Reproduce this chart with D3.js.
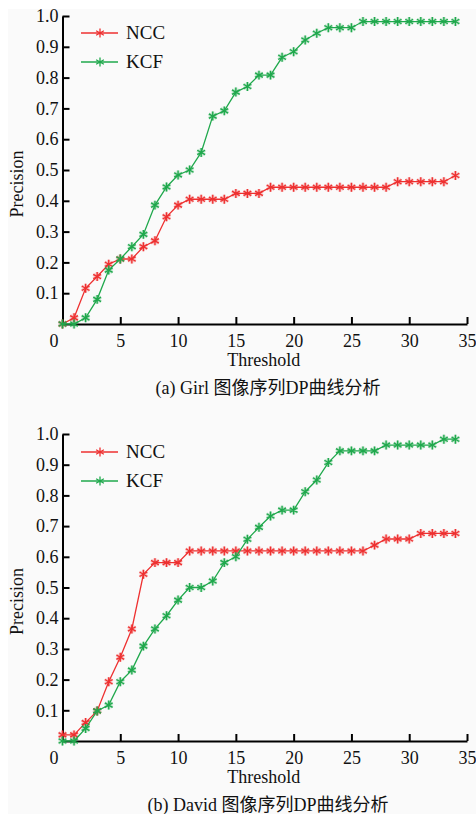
<!DOCTYPE html>
<html>
<head>
<meta charset="utf-8">
<script src="https://cdn.jsdelivr.net/npm/d3@7"></script>
<style>
  body { margin: 0; background: #fff; }
</style>
</head>
<body>
<script>
const W = 476
const H = 814
const FONT = "'Times New Roman', 'Liberation Serif', 'DejaVu Serif', 'Noto Sans CJK SC', serif"

// thresholds 0..34
const thresholds = d3.range(0, 35)

// (a) Girl
const girlNCC = [0, 0.02, 0.116, 0.154, 0.194, 0.211, 0.211, 0.251, 0.27, 0.348,
  0.386, 0.405, 0.405, 0.405, 0.405, 0.424, 0.424, 0.424, 0.444, 0.444,
  0.444, 0.444, 0.444, 0.444, 0.444, 0.444, 0.444, 0.444, 0.444, 0.462,
  0.462, 0.462, 0.462, 0.462, 0.482]
const girlKCF = [0, 0, 0.02, 0.08, 0.175, 0.211, 0.251, 0.291, 0.386, 0.445,
  0.484, 0.5, 0.557, 0.675, 0.692, 0.753, 0.771, 0.808, 0.808, 0.866,
  0.884, 0.922, 0.944, 0.962, 0.962, 0.962, 0.982, 0.982, 0.982, 0.982,
  0.982, 0.982, 0.982, 0.982, 0.982]

// (b) David
const davidNCC = [0.02, 0.02, 0.06, 0.098, 0.193, 0.273, 0.365, 0.543, 0.581, 0.581,
  0.581, 0.619, 0.619, 0.619, 0.619, 0.619, 0.619, 0.619, 0.619, 0.619,
  0.619, 0.619, 0.619, 0.619, 0.619, 0.619, 0.619, 0.638, 0.658, 0.658,
  0.658, 0.676, 0.676, 0.676, 0.676]
const davidKCF = [0, 0, 0.041, 0.098, 0.117, 0.193, 0.231, 0.309, 0.365, 0.408,
  0.459, 0.5, 0.5, 0.521, 0.581, 0.6, 0.657, 0.696, 0.733, 0.752,
  0.752, 0.812, 0.85, 0.907, 0.945, 0.945, 0.945, 0.945, 0.964, 0.964,
  0.964, 0.964, 0.964, 0.983, 0.983]

const seriesNames = ['NCC', 'KCF']
const colors = ['#ee3030', '#1fa84c']
const xTicks = [0, 5, 10, 15, 20, 25, 30, 35]
const yTicks = [0.1, 0.2, 0.3, 0.4, 0.5, 0.6, 0.7, 0.8, 0.9, 1.0]
const captions = ['(a) Girl 图像序列DP曲线分析', '(b) David 图像序列DP曲线分析']

const panels = [
  { data: [girlNCC, girlKCF], caption: captions[0], y0: 324, y1: 16, legY: 33 },
  { data: [davidNCC, davidKCF], caption: captions[1], y0: 741, y1: 434, legY: 452 }
]

const svg = d3.select('body').append('svg')
  .attr('width', W)
  .attr('height', H)
  .attr('font-family', FONT)

svg.append('rect')
  .attr('x', 8).attr('y', 9)
  .attr('width', W - 8).attr('height', H - 9)
  .attr('fill', '#fafafa')

const x = d3.scaleLinear().domain([0, 35]).range([62.5, 467])
const star = d3.symbol(d3.symbolAsterisk, 56)

panels.forEach(p => {
  const y = d3.scaleLinear().domain([0, 1]).range([p.y0, p.y1])
  const g = svg.append('g')

  // x axis
  const xa = g.append('g')
    .attr('transform', `translate(0,${p.y0})`)
    .call(d3.axisBottom(x).tickValues(xTicks).tickSizeInner(-7).tickSizeOuter(0).tickPadding(10))
  xa.attr('font-family', FONT).attr('font-size', 18)
  xa.select('.domain').attr('stroke-width', 2).attr('stroke', '#000')
  xa.selectAll('.tick line').attr('stroke-width', 2).attr('stroke', '#000')
  xa.selectAll('.tick text').attr('fill', '#111')
  xa.selectAll('.tick').filter(d => d === 0).select('line').remove()
  xa.selectAll('.tick').filter(d => d === 0).select('text').attr('x', -9)

  // y axis
  const ya = g.append('g')
    .attr('transform', `translate(${x(0)},0)`)
    .call(d3.axisLeft(y).tickValues(yTicks).tickFormat(d3.format('.1f')).tickSizeInner(-7).tickSizeOuter(0).tickPadding(4))
  ya.attr('font-family', FONT).attr('font-size', 18)
  ya.select('.domain').attr('stroke-width', 2).attr('stroke', '#000')
  ya.selectAll('.tick line').attr('stroke-width', 2).attr('stroke', '#000')
  ya.selectAll('.tick text').attr('fill', '#111')

  // lines and markers
  p.data.forEach((vals, i) => {
    const pts = thresholds.map((t, k) => [t, vals[k]])
    g.append('path')
      .datum(pts)
      .attr('fill', 'none')
      .attr('stroke', colors[i])
      .attr('stroke-width', 1.3)
      .attr('d', d3.line().x(d => x(d[0])).y(d => y(d[1])))
    const m = g.selectAll(null).data(pts).enter().append('g')
      .attr('transform', d => `translate(${x(d[0])},${y(d[1])})`)
    m.append('path').attr('d', star).attr('fill', 'none')
      .attr('stroke', colors[i]).attr('stroke-width', 3).attr('stroke-opacity', 0.3)
    m.append('path').attr('d', star).attr('fill', 'none')
      .attr('stroke', colors[i]).attr('stroke-width', 1.3)
  })

  // legend
  seriesNames.forEach((name, i) => {
    const ly = p.legY + i * 29
    g.append('line')
      .attr('x1', 81).attr('x2', 118).attr('y1', ly).attr('y2', ly)
      .attr('stroke', colors[i]).attr('stroke-width', 1.3)
    g.append('path').attr('d', star)
      .attr('transform', `translate(100,${ly})`)
      .attr('fill', 'none').attr('stroke', colors[i]).attr('stroke-width', 1.3)
    g.append('text')
      .attr('x', 126).attr('y', ly + 6)
      .attr('font-size', 19).attr('fill', '#111')
      .text(name)
  })

  // axis titles
  g.append('text')
    .attr('x', (x(0) + x(35)) / 2 - 1).attr('y', p.y0 + 42)
    .attr('text-anchor', 'middle').attr('font-size', 18).attr('fill', '#111')
    .text('Threshold')
  g.append('text')
    .attr('transform', `translate(23,${(p.y0 + p.y1) / 2 + 14}) rotate(-90)`)
    .attr('text-anchor', 'middle').attr('font-size', 18).attr('fill', '#111')
    .text('Precision')
  g.append('text')
    .attr('x', 268).attr('y', p.y0 + 70)
    .attr('text-anchor', 'middle').attr('font-size', 18).attr('fill', '#111')
    .text(p.caption)
})
</script>
</body>
</html>
